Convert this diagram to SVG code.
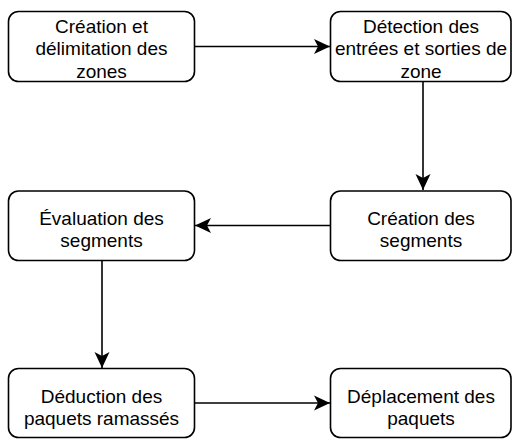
<svg xmlns="http://www.w3.org/2000/svg" width="512" height="439" viewBox="0 0 512 439">
  <style>
    .box { fill: #ffffff; stroke: #000000; stroke-width: 1.6; }
    .lbl { font-family: "Liberation Sans", Arial, Helvetica, sans-serif; font-size: 19px; fill: #000000; text-anchor: middle; }
    .edge { fill: none; stroke: #000000; stroke-width: 1.6; marker-end: url(#arr); }
  </style>
  <defs>
    <marker id="arr" markerUnits="userSpaceOnUse" markerWidth="17" markerHeight="16" viewBox="0 0 17 16" refX="16" refY="8" orient="auto">
      <path d="M16,8 L0,0.5 L4,8 L0,15.5 Z" fill="#000000"/>
    </marker>
  </defs>
  <rect width="512" height="439" fill="#ffffff"/>

  <g id="connectors">
    <path class="edge" d="M195,46.5 L330,46.5"/>
    <path class="edge" d="M423,82 L423,190"/>
    <path class="edge" d="M330.5,225.5 L195,225.5"/>
    <path class="edge" d="M102,261 L102,368"/>
    <path class="edge" d="M195,403 L330,403"/>
  </g>

  <g id="n1">
    <rect class="box" x="8.5" y="11.5" width="186" height="70" rx="10"/>
    <text class="lbl" x="101.5" y="33">Création et</text>
    <text class="lbl" x="101.5" y="55">délimitation des</text>
    <text class="lbl" x="101.5" y="77.5">zones</text>
  </g>
  <g id="n2">
    <rect class="box" x="330.5" y="11.5" width="180.5" height="70" rx="10"/>
    <text class="lbl" x="421" y="33">Détection des</text>
    <text class="lbl" x="421" y="55">entrées et sorties de</text>
    <text class="lbl" x="421" y="77.5">zone</text>
  </g>
  <g id="n3">
    <rect class="box" x="330.5" y="191" width="180.5" height="69.5" rx="10"/>
    <text class="lbl" x="421" y="225">Création des</text>
    <text class="lbl" x="421" y="247">segments</text>
  </g>
  <g id="n4">
    <rect class="box" x="8.5" y="191" width="186" height="69.5" rx="10"/>
    <text class="lbl" x="101.5" y="225">Évaluation des</text>
    <text class="lbl" x="101.5" y="247">segments</text>
  </g>
  <g id="n5">
    <rect class="box" x="8.5" y="368.5" width="186" height="69" rx="10"/>
    <text class="lbl" x="101.5" y="403">Déduction des</text>
    <text class="lbl" x="101.5" y="425">paquets ramassés</text>
  </g>
  <g id="n6">
    <rect class="box" x="330.5" y="368.5" width="180.5" height="69" rx="10"/>
    <text class="lbl" x="421" y="403">Déplacement des</text>
    <text class="lbl" x="421" y="425">paquets</text>
  </g>
</svg>
